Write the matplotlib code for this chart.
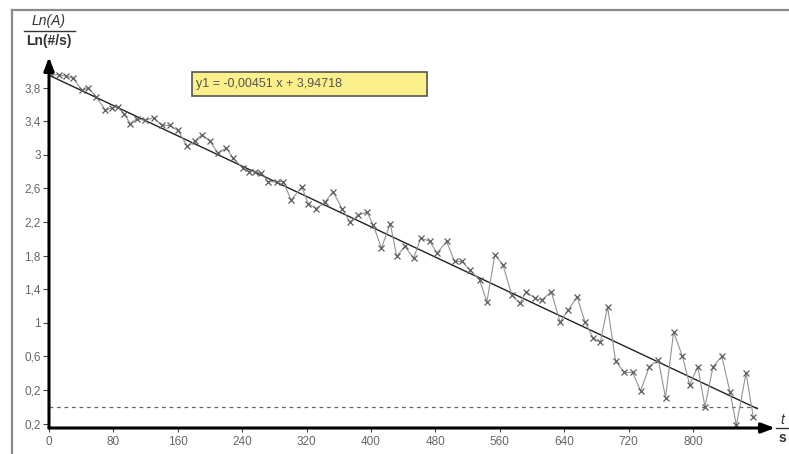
import matplotlib
matplotlib.use("Agg")
import matplotlib.pyplot as plt
from matplotlib.lines import Line2D
from matplotlib.patches import Rectangle

plt.rcParams['font.family'] = ['Liberation Sans', 'DejaVu Sans']

# Data (time in s, Ln(A))
t_vals = [3, 12, 21, 30, 41, 49, 59, 70, 78, 86, 93, 101, 109, 119, 130, 140, 150, 160,
          172, 181, 190, 200, 210, 220, 229,
          241, 248, 256, 264, 272, 283, 291, 301, 314, 322, 332, 343, 353, 364, 374,
          384, 395, 403, 413, 424, 432, 442, 453, 462,
          473, 482, 494, 504, 513, 523, 535, 544, 554, 564, 575, 585, 593, 604, 612,
          624, 635, 645, 656, 666, 676, 685, 694,
          704, 715, 725, 735, 746, 757, 766, 776, 787, 796, 806, 815, 825, 836, 846,
          854, 866, 875]
ln_a = [3.96, 3.95, 3.94, 3.91, 3.77, 3.79, 3.69, 3.53, 3.56, 3.57, 3.49, 3.37, 3.43,
        3.41, 3.44, 3.35, 3.35, 3.29, 3.10, 3.16, 3.24, 3.16, 3.02, 3.08, 2.96,
        2.84, 2.80, 2.80, 2.78, 2.68, 2.68, 2.68, 2.46, 2.62, 2.42, 2.36, 2.44, 2.56,
        2.36, 2.20, 2.28, 2.32, 2.16, 1.89, 2.18, 1.79, 1.91, 1.77, 2.01,
        1.97, 1.83, 1.97, 1.73, 1.73, 1.63, 1.51, 1.25, 1.81, 1.69, 1.33, 1.23, 1.37,
        1.29, 1.27, 1.37, 1.01, 1.15, 1.31, 1.01, 0.82, 0.77, 1.19,
        0.54, 0.41, 0.41, 0.19, 0.48, 0.56, 0.11, 0.89, 0.60, 0.26, 0.48, 0.00, 0.48,
        0.60, 0.18, -0.22, 0.40, -0.12]

slope = -0.00451
intercept = 3.94718
fit_x = [0, 880]
dash_y = 0.0
dash_x = [0, 880]

y_ticks = [3.8, 3.4, 3.0, 2.6, 2.2, 1.8, 1.4, 1.0, 0.6, 0.2, -0.2]
y_labels = ["3,8", "3,4", "3", "2,6", "2,2", "1,8", "1,4", "1", "0,6", "0,2", "0,2"]
x_ticks = [0, 80, 160, 240, 320, 400, 480, 560, 640, 720, 800]
x_labels = [str(v) for v in x_ticks]
eq_text = "y1 = -0,00451 x + 3,94718"

W, H = 789, 454
fig = plt.figure(figsize=(W / 100, H / 100), dpi=100)
fig.patch.set_facecolor('white')

# axes in pixel placement
L, R, T, B = 49, 775, 57, 428
ax = fig.add_axes([L / W, 1 - B / H, (R - L) / W, (B - T) / H])
ax.set_xlim(0, 902)
ax.set_ylim(-0.252, 4.164)
ax.patch.set_alpha(0)
for s in ax.spines.values():
    s.set_visible(False)

# fit line
ax.plot(fit_x, [slope * v + intercept for v in fit_x], color='#222222', lw=1.0, zorder=3)
# dashed baseline
ax.plot(dash_x, [dash_y, dash_y], color='#666666', lw=0.9, dashes=(3, 3), zorder=2)
# data
ax.plot(t_vals, ln_a, color='#939393', lw=0.8, marker='x', ms=5, mew=0.9,
        mec='#5c5c5c', zorder=4)

# ticks
ax.set_yticks(y_ticks)
ax.set_yticklabels(y_labels)
ax.set_xticks(x_ticks)
ax.set_xticklabels(x_labels)
ax.tick_params(axis='y', direction='out', length=4, width=0.8, color='#444444',
               labelsize=8.5, labelcolor='#666666', pad=2)
ax.tick_params(axis='x', direction='out', length=3, width=0.8, color='#444444',
               labelsize=8.5, labelcolor='#666666', pad=3)

# axis arrows
ax.annotate('', xy=(1, 0), xytext=(0, 0), xycoords='axes fraction',
            arrowprops=dict(arrowstyle='-|>,head_length=0.8,head_width=0.3',
                            color='black', lw=2.2, shrinkA=0, shrinkB=0), zorder=5)
ax.annotate('', xy=(0, 1), xytext=(0, 0), xycoords='axes fraction',
            arrowprops=dict(arrowstyle='-|>,head_length=0.8,head_width=0.3',
                            color='black', lw=2.2, shrinkA=0, shrinkB=0), zorder=5)

# equation box
fig.add_artist(Rectangle((192 / W, 1 - 96 / H), (427 - 192) / W, (96 - 72) / H,
                         transform=fig.transFigure, fc='#fbf08a', ec='#555555', lw=1.2))
fig.text(196 / W, 1 - 84 / H, eq_text, fontsize=9, color='#555555', va='center', ha='left')

# y label (fraction)
fig.text(49 / W, 1 - 21 / H, 'Ln(A)', fontsize=10, style='italic', color='#333333',
         ha='center', va='center')
fig.add_artist(Line2D([24 / W, 75 / W], [1 - 31 / H, 1 - 31 / H], color='#333333', lw=1.0))
fig.text(49 / W, 1 - 41 / H, 'Ln(#/s)', fontsize=10, weight='bold', color='#333333',
         ha='center', va='center')

# x label (fraction)
fig.text(782 / W, 1 - 420 / H, 't', fontsize=10, style='italic', color='#333333',
         ha='center', va='center')
fig.add_artist(Line2D([776 / W, 789 / W], [1 - 428 / H, 1 - 428 / H], color='#333333', lw=1.0))
fig.text(782 / W, 1 - 438 / H, 's', fontsize=10, weight='bold', color='#333333',
         ha='center', va='center')

# outer frame (left and top)
fig.add_artist(Line2D([12 / W, 12 / W], [0, 1 - 10 / H], color='#8a8a8a', lw=1.6))
fig.add_artist(Line2D([12 / W, 1], [1 - 10 / H, 1 - 10 / H], color='#8a8a8a', lw=1.6))

fig.savefig('out.png', dpi=100)
